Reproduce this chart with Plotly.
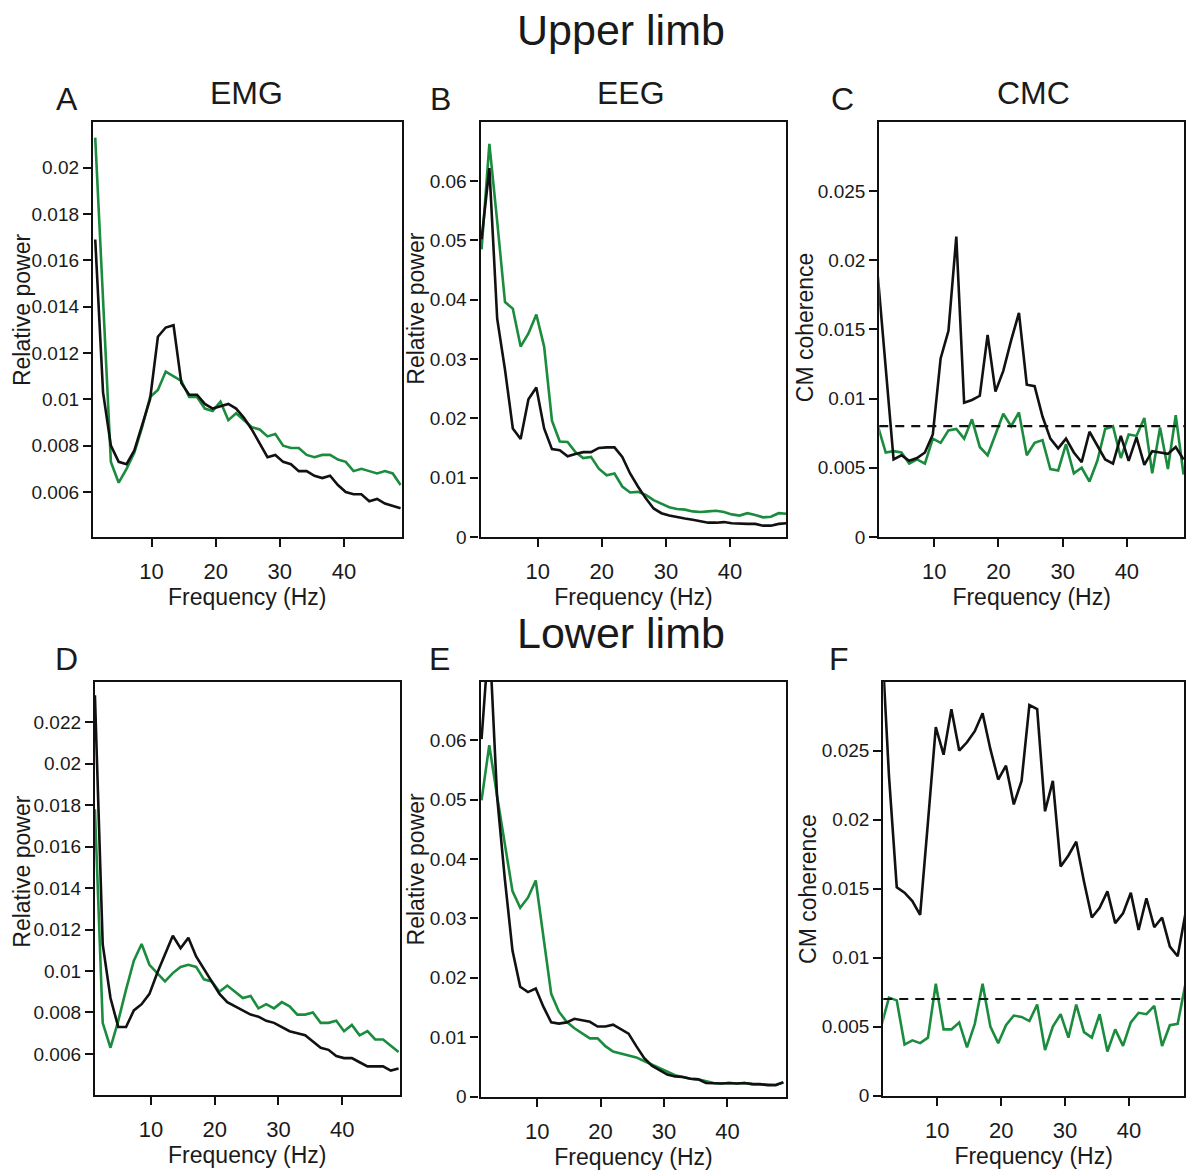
import plotly.graph_objects as go

# ---------------- data ----------------
freq_hz = [1.22, 2.44, 3.66, 4.88, 6.10, 7.32, 8.54, 9.77, 10.99, 12.21,
           13.43, 14.65, 15.87, 17.09, 18.31, 19.53, 20.75, 21.97, 23.19, 24.41,
           25.63, 26.86, 28.08, 29.30, 30.52, 31.74, 32.96, 34.18, 35.40, 36.62,
           37.84, 39.06, 40.28, 41.50, 42.72, 43.95, 45.17, 46.39, 47.61, 48.83]

emg_upper_black = [0.0169, 0.0103, 0.0080, 0.0073, 0.0072, 0.0078, 0.0089, 0.0100, 0.0127, 0.0131,
                   0.0132, 0.0107, 0.0102, 0.0102, 0.0098, 0.0096, 0.0097, 0.0098, 0.0096, 0.0092,
                   0.0087, 0.0081, 0.0075, 0.0076, 0.0073, 0.0072, 0.0069, 0.0069, 0.0067, 0.0066,
                   0.0067, 0.0063, 0.0060, 0.0059, 0.0059, 0.0056, 0.0057, 0.0055, 0.0054, 0.0053]
emg_upper_green = [0.0213, 0.0140, 0.0073, 0.0064, 0.0070, 0.0077, 0.0088, 0.0101, 0.0104, 0.0112,
                   0.0110, 0.0108, 0.0101, 0.0101, 0.0096, 0.0095, 0.0099, 0.0091, 0.0094, 0.0091,
                   0.0088, 0.0087, 0.0084, 0.0085, 0.0080, 0.0079, 0.0079, 0.0076, 0.0075, 0.0076,
                   0.0076, 0.0074, 0.0073, 0.0069, 0.0070, 0.0069, 0.0068, 0.0069, 0.0068, 0.0063]

eeg_upper_black = [0.0502, 0.0622, 0.0368, 0.0282, 0.0183, 0.0165, 0.0232, 0.0252, 0.0183, 0.0148,
                   0.0146, 0.0136, 0.0140, 0.0143, 0.0143, 0.0150, 0.0151, 0.0151, 0.0135, 0.0107,
                   0.0085, 0.0065, 0.0048, 0.0040, 0.0036, 0.0033, 0.0031, 0.0029, 0.0026, 0.0024,
                   0.0024, 0.0025, 0.0023, 0.0022, 0.0022, 0.0022, 0.0019, 0.0019, 0.0022, 0.0023]
eeg_upper_green = [0.0485, 0.0663, 0.0532, 0.0396, 0.0385, 0.0321, 0.0343, 0.0375, 0.0321, 0.0196,
                   0.0161, 0.0160, 0.0143, 0.0133, 0.0135, 0.0115, 0.0104, 0.0107, 0.0085, 0.0075,
                   0.0076, 0.0071, 0.0062, 0.0056, 0.0050, 0.0047, 0.0046, 0.0043, 0.0042, 0.0043,
                   0.0044, 0.0042, 0.0038, 0.0036, 0.0040, 0.0037, 0.0033, 0.0034, 0.0040, 0.0039]

cmc_upper_black = [0.0188, 0.0123, 0.0056, 0.0059, 0.0055, 0.0057, 0.0061, 0.0074, 0.0129, 0.0149,
                   0.0217, 0.0097, 0.0099, 0.0102, 0.0146, 0.0105, 0.0120, 0.0142, 0.0162, 0.0110,
                   0.0109, 0.0087, 0.0071, 0.0064, 0.0071, 0.0061, 0.0054, 0.0076, 0.0066, 0.0056,
                   0.0053, 0.0073, 0.0055, 0.0072, 0.0052, 0.0062, 0.0061, 0.0060, 0.0065, 0.0056]
cmc_upper_green = [0.0080, 0.0061, 0.0062, 0.0061, 0.0053, 0.0056, 0.0053, 0.0071, 0.0068, 0.0077,
                   0.0078, 0.0071, 0.0085, 0.0065, 0.0059, 0.0074, 0.0089, 0.0080, 0.0090, 0.0059,
                   0.0068, 0.0070, 0.0049, 0.0048, 0.0067, 0.0046, 0.0050, 0.0040, 0.0055, 0.0078,
                   0.0080, 0.0057, 0.0074, 0.0073, 0.0086, 0.0046, 0.0079, 0.0049, 0.0088, 0.0045]
cmc_upper_threshold = 0.008

emg_lower_black = [0.0233, 0.0113, 0.0087, 0.0073, 0.0073, 0.0081, 0.0084, 0.0089, 0.0099, 0.0108,
                   0.0117, 0.0111, 0.0116, 0.0107, 0.0101, 0.0095, 0.0089, 0.0085, 0.0083, 0.0081,
                   0.0079, 0.0078, 0.0076, 0.0075, 0.0073, 0.0071, 0.0070, 0.0069, 0.0066, 0.0063,
                   0.0062, 0.0059, 0.0058, 0.0058, 0.0056, 0.0054, 0.0054, 0.0054, 0.0052, 0.0053]
emg_lower_green = [0.0178, 0.0075, 0.0063, 0.0076, 0.0091, 0.0105, 0.0113, 0.0103, 0.0099, 0.0095,
                   0.0099, 0.0102, 0.0103, 0.0102, 0.0096, 0.0095, 0.0090, 0.0093, 0.0090, 0.0087,
                   0.0088, 0.0082, 0.0084, 0.0082, 0.0085, 0.0083, 0.0079, 0.0079, 0.0080, 0.0075,
                   0.0075, 0.0076, 0.0071, 0.0074, 0.0069, 0.0071, 0.0067, 0.0067, 0.0064, 0.0061]

eeg_lower_black = [0.0602, 0.0780, 0.0507, 0.0368, 0.0246, 0.0185, 0.0176, 0.0182, 0.0151, 0.0125,
                   0.0123, 0.0125, 0.0131, 0.0129, 0.0126, 0.0118, 0.0118, 0.0121, 0.0113, 0.0106,
                   0.0085, 0.0065, 0.0052, 0.0044, 0.0037, 0.0034, 0.0033, 0.0030, 0.0029, 0.0023,
                   0.0022, 0.0022, 0.0023, 0.0022, 0.0023, 0.0021, 0.0021, 0.0019, 0.0019, 0.0024]
eeg_lower_green = [0.0499, 0.0592, 0.0507, 0.0429, 0.0346, 0.0318, 0.0335, 0.0364, 0.0268, 0.0173,
                   0.0143, 0.0126, 0.0115, 0.0107, 0.0098, 0.0098, 0.0085, 0.0076, 0.0073, 0.0070,
                   0.0066, 0.0060, 0.0054, 0.0048, 0.0043, 0.0036, 0.0033, 0.0030, 0.0029, 0.0026,
                   0.0023, 0.0022, 0.0023, 0.0022, 0.0023, 0.0021, 0.0021, 0.0020, 0.0020, 0.0024]

cmc_lower_black = [0.0340, 0.0232, 0.0151, 0.0147, 0.0141, 0.0131, 0.0198, 0.0267, 0.0247, 0.0280,
                   0.0250, 0.0256, 0.0264, 0.0277, 0.0251, 0.0229, 0.0239, 0.0211, 0.0228, 0.0283,
                   0.0280, 0.0206, 0.0228, 0.0166, 0.0174, 0.0184, 0.0155, 0.0129, 0.0136, 0.0148,
                   0.0125, 0.0132, 0.0147, 0.0120, 0.0143, 0.0122, 0.0129, 0.0108, 0.0101, 0.0132]
cmc_lower_green = [0.0050, 0.0071, 0.0069, 0.0037, 0.0040, 0.0038, 0.0042, 0.0081, 0.0048, 0.0048,
                   0.0053, 0.0035, 0.0052, 0.0081, 0.0050, 0.0038, 0.0051, 0.0058, 0.0057, 0.0054,
                   0.0066, 0.0033, 0.0050, 0.0059, 0.0042, 0.0066, 0.0046, 0.0042, 0.0059, 0.0032,
                   0.0048, 0.0036, 0.0053, 0.0060, 0.0059, 0.0065, 0.0036, 0.0051, 0.0052, 0.0081]
cmc_lower_threshold = 0.007

x_tick_vals = [10, 20, 30, 40]
x_tick_text = ["10", "20", "30", "40"]
emg_upper_ticks = [0.006, 0.008, 0.01, 0.012, 0.014, 0.016, 0.018, 0.02]
emg_upper_ticktext = ["0.006", "0.008", "0.01", "0.012", "0.014", "0.016", "0.018", "0.02"]
emg_lower_ticks = [0.006, 0.008, 0.01, 0.012, 0.014, 0.016, 0.018, 0.02, 0.022]
emg_lower_ticktext = ["0.006", "0.008", "0.01", "0.012", "0.014", "0.016", "0.018", "0.02", "0.022"]
eeg_ticks = [0, 0.01, 0.02, 0.03, 0.04, 0.05, 0.06]
eeg_ticktext = ["0", "0.01", "0.02", "0.03", "0.04", "0.05", "0.06"]
cmc_ticks = [0, 0.005, 0.01, 0.015, 0.02, 0.025]
cmc_ticktext = ["0", "0.005", "0.01", "0.015", "0.02", "0.025"]

# ---------------- layout helpers ----------------
W, H = 1186, 1171
FONT = "Liberation Sans, Arial, Helvetica, sans-serif"
TXT = "#1a1a1a"
GREEN = "#1b8c3e"
BLACK = "#111111"


def xdom(l, r):
    return [l / W, r / W]


def ydom(t, b):
    return [1 - b / H, 1 - t / H]


panels = [
    dict(box=(93, 402, 123, 542), xr=[0.86, 49.0], yr=[0.00406, 0.02198],
         tv=emg_upper_ticks, tt=emg_upper_ticktext, black=emg_upper_black, green=emg_upper_green,
         thr=None, ylab="Relative power", ylp=(22, 313)),
    dict(box=(481, 787, 123, 542), xr=[1.07, 48.8], yr=[0, 0.07],
         tv=eeg_ticks, tt=eeg_ticktext, black=eeg_upper_black, green=eeg_upper_green,
         thr=None, ylab="Relative power", ylp=(416, 312)),
    dict(box=(880, 1185, 123, 542), xr=[1.43, 48.9], yr=[0, 0.03],
         tv=cmc_ticks, tt=cmc_ticktext, black=cmc_upper_black, green=cmc_upper_green,
         thr=cmc_upper_threshold, ylab="CM coherence", ylp=(806, 330)),
    dict(box=(95, 400, 688, 1105), xr=[1.22, 49.0], yr=[0.00404, 0.02396],
         tv=emg_lower_ticks, tt=emg_lower_ticktext, black=emg_lower_black, green=emg_lower_green,
         thr=None, ylab="Relative power", ylp=(22, 880)),
    dict(box=(481, 787, 688, 1107), xr=[1.07, 49.3], yr=[0, 0.0699],
         tv=eeg_ticks, tt=eeg_ticktext, black=eeg_lower_black, green=eeg_lower_green,
         thr=None, ylab="Relative power", ylp=(416, 878)),
    dict(box=(884, 1185, 688, 1106), xr=[1.55, 48.6], yr=[0, 0.03],
         tv=cmc_ticks, tt=cmc_ticktext, black=cmc_lower_black, green=cmc_lower_green,
         thr=cmc_lower_threshold, ylab="CM coherence", ylp=(808, 897)),
]

fig = go.Figure()
layout = dict(
    width=W, height=H, margin=dict(l=0, r=0, t=0, b=0),
    paper_bgcolor="white", plot_bgcolor="white", showlegend=False,
    font=dict(family=FONT, color=TXT),
)
annotations = []
shapes = []

for i, p in enumerate(panels, start=1):
    sfx = "" if i == 1 else str(i)
    xa, ya = "x" + sfx, "y" + sfx
    l, r, t, b = p["box"]
    fig.add_trace(go.Scatter(x=freq_hz, y=p["green"], mode="lines", xaxis=xa, yaxis=ya,
                             line=dict(color=GREEN, width=2.6), hoverinfo="skip"))
    fig.add_trace(go.Scatter(x=freq_hz, y=p["black"], mode="lines", xaxis=xa, yaxis=ya,
                             line=dict(color=BLACK, width=2.6), hoverinfo="skip"))
    axis_common = dict(showgrid=False, zeroline=False, showline=True, linecolor=BLACK,
                       linewidth=2.2, mirror=True, ticks="outside", ticklen=8, tickwidth=2,
                       tickcolor=BLACK)
    layout["xaxis" + sfx] = dict(axis_common, domain=xdom(l, r), anchor=ya, range=p["xr"],
                                 tickmode="array", tickvals=x_tick_vals, ticktext=x_tick_text,
                                 tickfont=dict(size=22, family=FONT, color=TXT),
                                 ticklabelstandoff=6,
                                 title=dict(text="Frequency (Hz)", standoff=0,
                                            font=dict(size=23, family=FONT, color=TXT)))
    layout["yaxis" + sfx] = dict(axis_common, domain=ydom(t, b), anchor=xa, range=p["yr"],
                                 tickmode="array", tickvals=p["tv"], ticktext=p["tt"],
                                 tickfont=dict(size=19, family=FONT, color=TXT))
    if p["thr"] is not None:
        shapes.append(dict(type="line", xref=xa + " domain", yref=ya, x0=0, x1=1,
                           y0=p["thr"], y1=p["thr"], layer="above",
                           line=dict(color=BLACK, width=2.2, dash="9px,7px")))
    annotations.append(dict(text=p["ylab"], x=p["ylp"][0] / W, y=1 - p["ylp"][1] / H,
                            xref="paper", yref="paper", showarrow=False, textangle=-90,
                            xanchor="center", yanchor="middle",
                            font=dict(size=23, family=FONT, color=TXT)))

# titles and panel letters
big_titles = [("Upper limb", 622, 30), ("Lower limb", 622, 639)]
for txt, x, y in big_titles:
    annotations.append(dict(text=txt, x=x / W, y=1 - y / H, xref="paper", yref="paper",
                            showarrow=False, xanchor="center", yanchor="middle",
                            font=dict(size=43, family=FONT, color=TXT)))
col_titles = [("EMG", 247, 94), ("EEG", 632, 94), ("CMC", 1034, 94)]
for txt, x, y in col_titles:
    annotations.append(dict(text=txt, x=x / W, y=1 - y / H, xref="paper", yref="paper",
                            showarrow=False, xanchor="center", yanchor="middle",
                            font=dict(size=32, family=FONT, color=TXT)))
letters = [("A", 67, 100), ("B", 441, 100), ("C", 843, 100),
           ("D", 67, 665), ("E", 440, 665), ("F", 840, 665)]
for txt, x, y in letters:
    annotations.append(dict(text=txt, x=x / W, y=1 - y / H, xref="paper", yref="paper",
                            showarrow=False, xanchor="center", yanchor="middle",
                            font=dict(size=32, family=FONT, color=TXT)))

layout["annotations"] = annotations
layout["shapes"] = shapes
fig.update_layout(**layout)
fig.write_html("out.html")
